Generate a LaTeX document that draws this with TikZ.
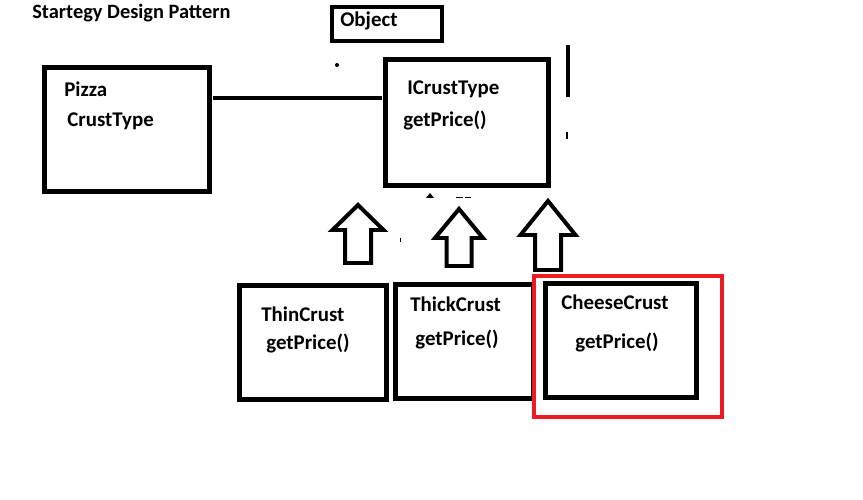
\documentclass[tikz,border=0pt]{standalone}
\usepackage{fontspec}
\setmainfont{Carlito}
\usetikzlibrary{calc}
\definecolor{paintred}{RGB}{237,28,36}
\tikzset{
  box/.style={draw, rectangle, line width=0.1cm, inner sep=0pt, outer sep=0pt},
  smallbox/.style={box, line width=0.08cm},
  lbl/.style={anchor=base west, inner sep=0pt, font=\bfseries\fontsize{11.9}{14}\selectfont},
  blockline/.style={line width=0.08cm, line join=miter},
  link/.style={line width=0.08cm, shorten <=2pt, shorten >=2pt},
}
% tip x, tip y, head base y, foot y, head half width, shaft half width
\newcommand{\blockup}[6]{%
  \draw[blockline] (#1-#6,#4) -- (#1-#6,#3) -- (#1-#5,#3) -- (#1,#2) -- (#1+#5,#3) -- (#1+#6,#3) -- (#1+#6,#4) -- cycle;}

\begin{document}
\begin{tikzpicture}[x=0.02cm, y=-0.02cm]
    \useasboundingbox (0,0) rectangle (863,500);
    % Title
    \node [lbl, font=\bfseries\fontsize{11.6}{13}\selectfont] (title) at (32,19) {Startegy Design Pattern};

    % Boxes
    \node [smallbox, minimum width=2.2cm, minimum height=0.68cm] (objbox) at (387,24) {};
    \node [box, minimum width=3.3cm, minimum height=2.48cm] (pizza) at (127,129.5) {};
    \node [box, minimum width=3.26cm, minimum height=2.52cm] (icrust) at (467,122.5) {};
    \node [box, minimum width=2.94cm, minimum height=2.28cm] (thin) at (313,342.5) {};
    \node [box, minimum width=2.77cm, minimum height=2.28cm] (thick) at (464.75,341.5) {};
    \node [box, minimum width=3.02cm, minimum height=2.28cm] (cheese) at (621,340.5) {};
    \node [box, draw=paintred, line width=0.086cm, minimum width=3.76cm, minimum height=2.82cm] (hilite) at (628,346.5) {};

    % Texts
    \node [lbl] (objtxt) at (340,27) {Object};
    \node [lbl] (pizzatxt) at (64,97) {Pizza};
    \node [lbl] (crusttxt) at (67,127) {CrustType};
    \node [lbl] (icrusttxt) at (407,95) {ICrustType};
    \node [lbl] (icrustfn) at (403,127) {getPrice()};
    \node [lbl] (thintxt) at (261,321) {ThinCrust};
    \node [lbl] (thinfn) at (266,349) {getPrice()};
    \node [lbl] (thicktxt) at (410,312) {ThickCrust};
    \node [lbl] (thickfn) at (415,345) {getPrice()};
    \node [lbl] (cheesetxt) at (561,309) {CheeseCrust};
    \node [lbl] (cheesefn) at (575,348) {getPrice()};

    % Link
    \coordinate (lnk) at (0,98);
    \draw [link] (pizza.east |- lnk) -- (icrust.west |- lnk);

    % Block arrows
    \blockup{358}{205}{230}{263}{25.5}{13}
    \blockup{459}{209}{238}{266}{24}{12.5}
    \blockup{548}{201}{235}{270}{27.5}{13}

    % Stray marks
    \fill (337,65) circle (2);
    \fill (426,198) -- (430,193) -- (434,198) -- cycle;
    \draw [line width=0.02cm] (456,198) -- (463,198) (465,198) -- (471,198);
    \draw [line width=0.02cm] (400,238) -- (400,242);
    \draw [line width=0.08cm] (568,45) -- (568,97);
    \draw [line width=0.04cm] (567,132) -- (567,139);
\end{tikzpicture}
\end{document}
